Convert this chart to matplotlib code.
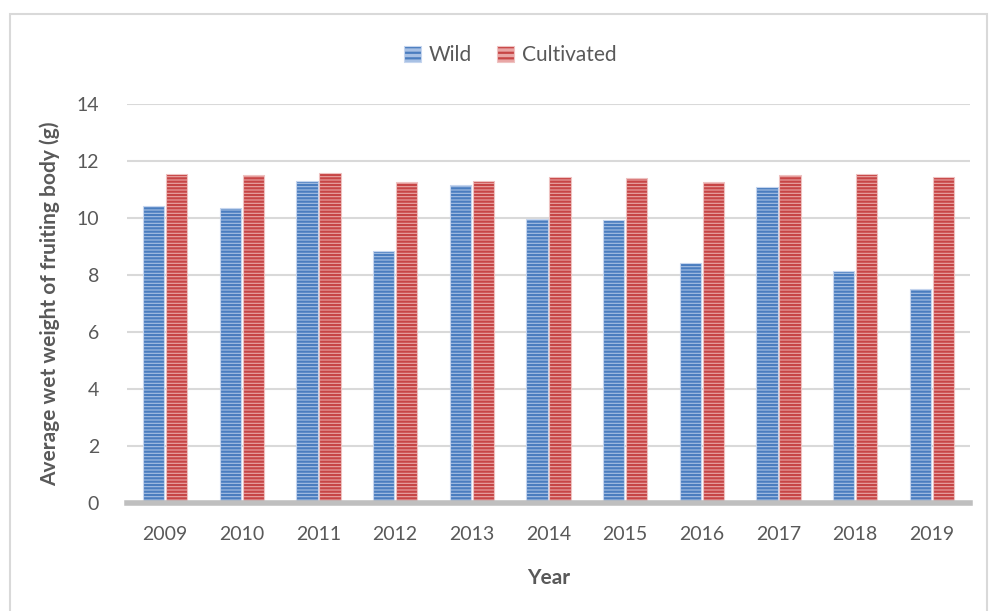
import numpy as np
import matplotlib.pyplot as plt
from matplotlib.patches import Rectangle

years = ['2009', '2010', '2011', '2012', '2013', '2014', '2015', '2016', '2017', '2018', '2019']
wild = [10.4, 10.33, 11.3, 8.85, 11.15, 9.95, 9.93, 8.42, 11.1, 8.12, 7.52]
cultivated = [11.55, 11.5, 11.58, 11.25, 11.28, 11.42, 11.4, 11.25, 11.5, 11.55, 11.45]

plt.rcParams['font.family'] = ['Lato', 'DejaVu Sans']
plt.rcParams['hatch.linewidth'] = 1.6

blue_line = (0.29, 0.49, 0.75, 1)
red_line = (0.78, 0.27, 0.27, 1)

fig = plt.figure(figsize=(9.9, 6.11), dpi=100)
ax = fig.add_axes([0.128, 0.177, 0.852, 0.653])

# outer frame around the chart
fig.patches.append(Rectangle((10/990, -0.01), 977/990, 1 - 14/611 + 0.01,
                             transform=fig.transFigure, fill=False,
                             edgecolor='#D9D9D9', linewidth=1.5))

x = np.arange(len(years))
w = 0.28
b1 = ax.bar(x - 0.15, wild, w, color='#A7C0E4', edgecolor='#C5D5EE', linewidth=0.8,
            hatch='-----', label='Wild', zorder=3)
b2 = ax.bar(x + 0.15, cultivated, w, color='#E9A6A5', edgecolor='#EEC2C1', linewidth=0.8,
            hatch='-----', label='Cultivated', zorder=3)
for bars, c in [(b1, blue_line), (b2, red_line)]:
    for p in bars:
        p._hatch_color = c

ax.set_xlim(-0.5, 10.5)
ax.set_ylim(0, 14)
ax.set_yticks(range(0, 15, 2))
ax.set_xticks(x)
ax.set_xticklabels(years)
ax.grid(axis='y', color='#D9D9D9', linewidth=1.5, zorder=0)
for s in ['top', 'right', 'left']:
    ax.spines[s].set_visible(False)
ax.spines['bottom'].set_color('#BFBFBF')
ax.spines['bottom'].set_linewidth(4)
ax.spines['bottom'].set_zorder(4)
ax.tick_params(length=0, labelsize=14, labelcolor='#595959', pad=17)
ax.tick_params(axis='y', pad=20)

ax.set_xlabel('Year', fontsize=15, fontweight='bold', color='#595959', labelpad=18)
ax.set_ylabel('Average wet weight of fruiting body (g)', fontsize=15,
              fontweight='bold', color='#595959', labelpad=12)

leg = ax.legend(loc='upper center', bbox_to_anchor=(0.455, 1.195), ncol=2, frameon=False,
                fontsize=15, handlelength=0.8, handleheight=0.8, columnspacing=1.2,
                handletextpad=0.4, labelcolor='#595959')
for h, c in zip(leg.legend_handles, [blue_line, red_line]):
    h._hatch_color = c
    h.set_hatch('---')

fig.savefig('out.png', dpi=100)
